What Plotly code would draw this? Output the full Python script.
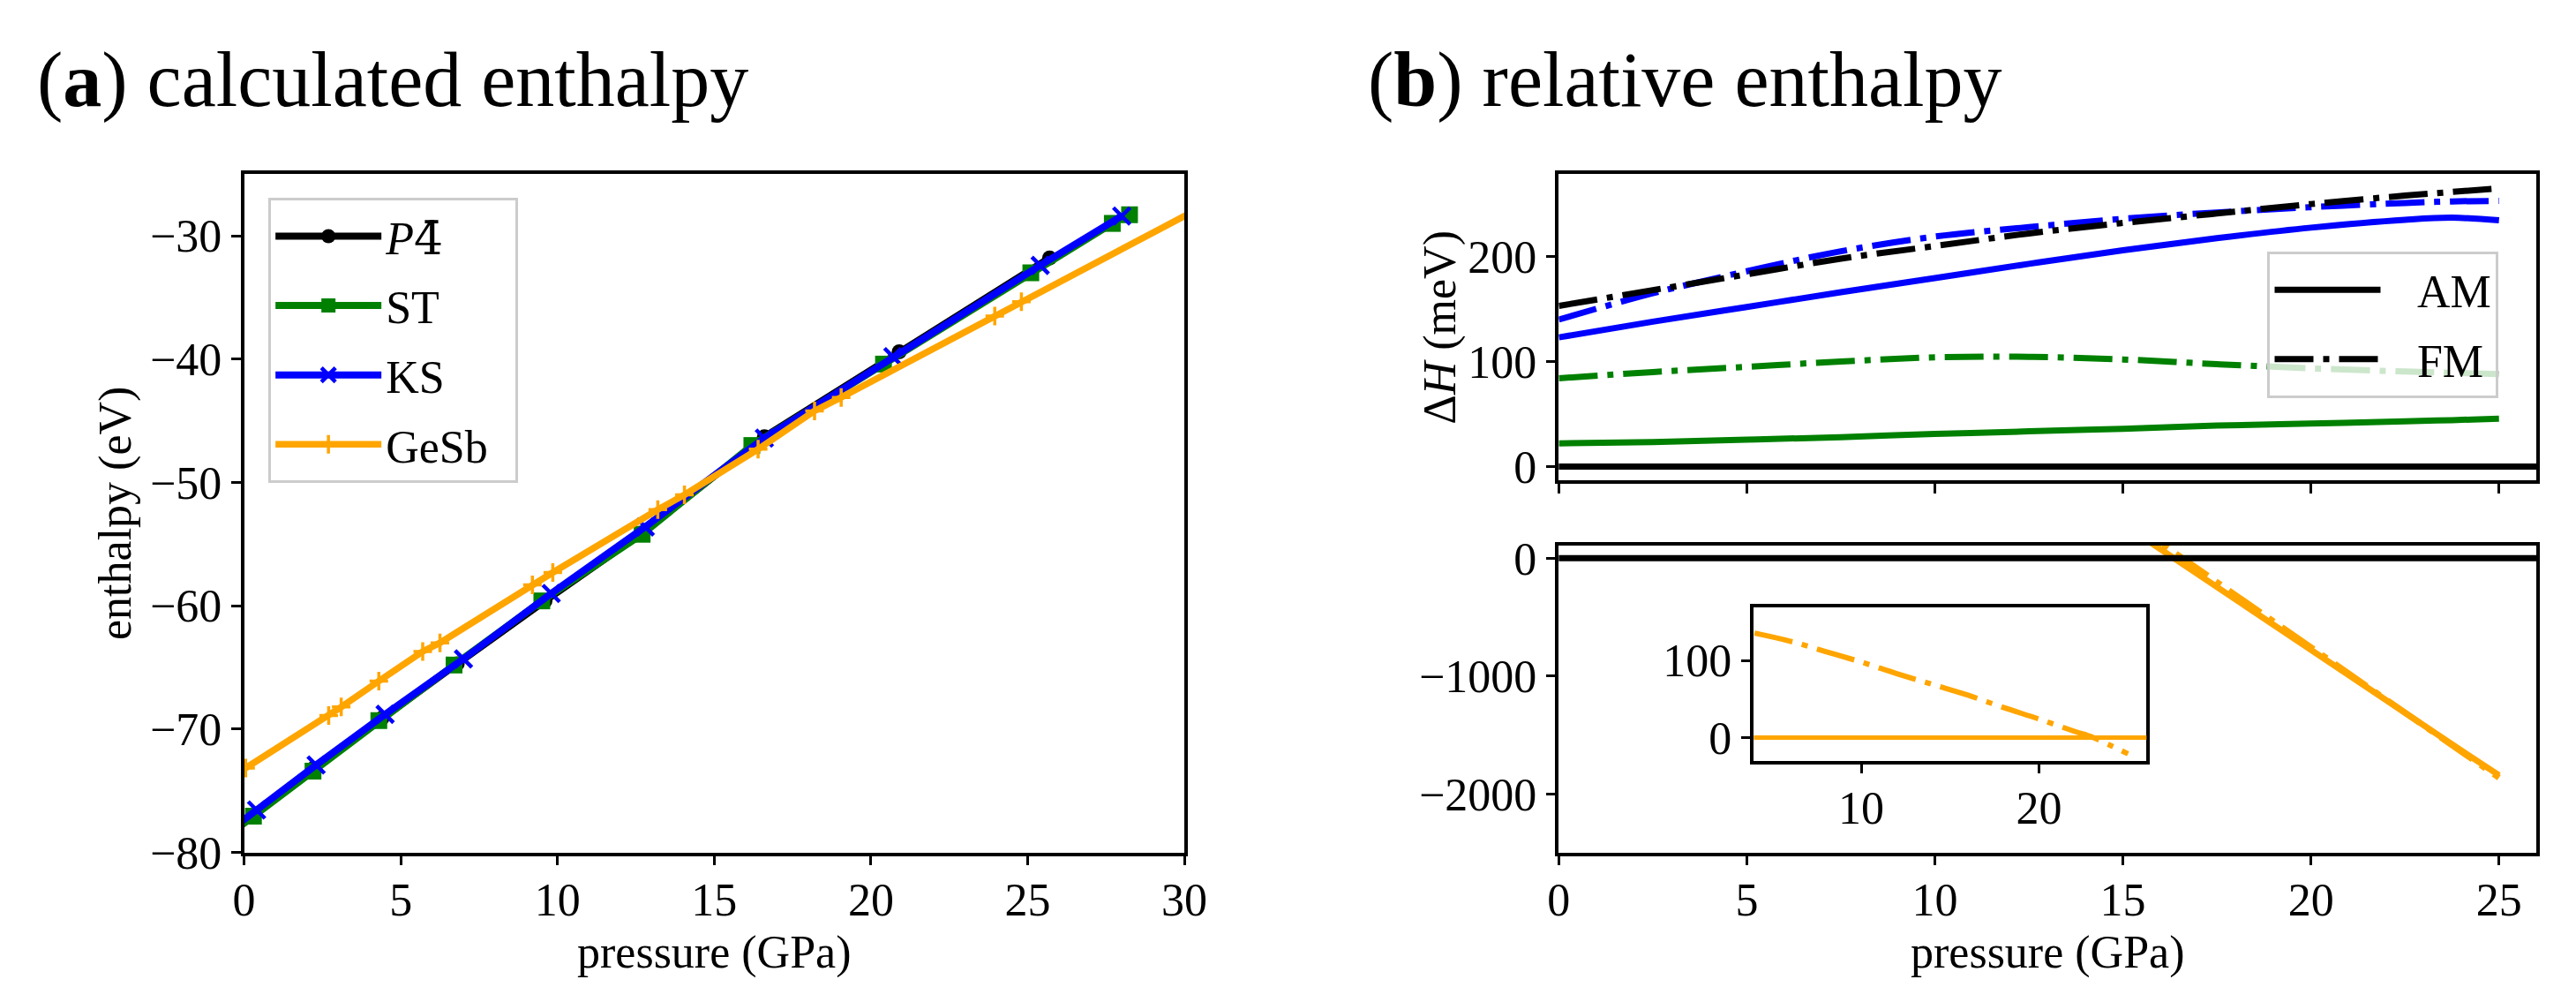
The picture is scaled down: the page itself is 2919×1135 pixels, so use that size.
import plotly.graph_objects as go

# (a) calculated enthalpy, eV vs GPa
p4_p = [-0.4, 0.3, 2.2, 4.4, 6.8, 9.6, 12.7, 16.6, 20.9, 25.7]
p4_h = [-78.3, -77.0, -73.2, -69.1, -64.7, -59.6, -54.1, -46.3, -39.4, -31.8]
st_p = [-0.4, 0.3, 2.2, 4.3, 6.7, 9.5, 12.7, 16.2, 20.4, 25.1, 27.7, 28.25]
st_h = [-78.4, -77.05, -73.4, -69.3, -64.8, -59.6, -54.2, -47.0, -40.4, -33.0, -29.0, -28.3]
ks_p = [-0.4, 0.4, 2.3, 4.5, 7.0, 9.8, 12.8, 16.6, 20.7, 25.4, 28.0]
ks_h = [-78.1, -76.55, -72.9, -68.8, -64.3, -59.0, -53.6, -46.4, -39.8, -32.4, -28.4]
gesb_p = [0.05, 2.7, 3.1, 4.3, 5.7, 6.25, 9.2, 9.85, 13.2, 14.05, 16.4, 18.2, 19.05, 23.95, 24.8, 30.3]
gesb_h = [-73.15, -68.9, -68.2, -66.1, -63.7, -63.0, -58.3, -57.3, -52.2, -51.0, -47.3, -44.2, -43.1, -36.5, -35.35, -28.0]

# (b) relative enthalpy, meV
rel_p = [0, 2.5, 5, 7.5, 10, 12.5, 15, 17.5, 20, 22.5, 23.75, 25]
p4_fm = [153, 168, 183, 198, 210, 222, 232, 241, 250, 258, 261.5, 265]
ks_am = [123, 138, 152, 166, 179.5, 193, 206, 217.5, 227.5, 235, 237, 234.5]
ks_fm = [140, 165, 186, 205, 219, 228, 236, 242, 247, 251, 252.5, 253]
st_am = [22, 23.2, 25.5, 28, 31, 33.5, 36, 39, 41, 43, 44.2, 45.5]
st_fm = [84, 90, 95, 100, 104, 104.5, 102, 97.5, 93.5, 90.5, 89.2, 88]

gesb_rel_p = [15, 16, 17, 18, 19, 20, 21, 22, 23, 24, 25]
gesb_am = [290, 75, -140, -355, -570, -785, -1000, -1210, -1420, -1630, -1840]
gesb_fm = [350, 130, -93, -318, -540, -761, -985, -1202, -1416, -1640, -1861]

# inset: GeSb FM - AM
inset_p = [4, 6, 8, 10, 12, 14, 16, 18, 20, 22, 23, 24, 25]
inset_fm = [135.5, 125, 111.5, 98, 83, 69, 55, 39, 24, 8, 0.5, -10, -21]

BLACK, GREEN, BLUE, ORANGE = "#000000", "#008000", "#0000ff", "#ffa500"
FONT = "Liberation Serif"
FS = 52
DASHDOT = "44px,11px,7px,11px"
W, H = 2919, 1135


def px(x):
    return x / W


def py(y):
    return 1 - y / H


fig = go.Figure()

# left panel
p4_name = "<i>P</i><span style=\"font-family:'DejaVu Serif'\">4\u0304</span>"
fig.add_trace(go.Scatter(x=p4_p, y=p4_h, name=p4_name, mode="lines+markers",
                         line=dict(color=BLACK, width=8),
                         marker=dict(symbol="circle", size=17, color=BLACK),
                         xaxis="x", yaxis="y", legend="legend", legendgroup="p4"))
fig.add_trace(go.Scatter(x=st_p, y=st_h, name="ST", mode="lines+markers",
                         line=dict(color=GREEN, width=8),
                         marker=dict(symbol="square", size=19, color=GREEN),
                         xaxis="x", yaxis="y", legend="legend", legendgroup="st"))
fig.add_trace(go.Scatter(x=ks_p, y=ks_h, name="KS", mode="lines+markers",
                         line=dict(color=BLUE, width=8),
                         marker=dict(symbol="x-thin", size=19, color=BLUE,
                                     line=dict(color=BLUE, width=4.5)),
                         xaxis="x", yaxis="y", legend="legend", legendgroup="ks"))
fig.add_trace(go.Scatter(x=gesb_p, y=gesb_h, name="GeSb\u2002", mode="lines+markers",
                         line=dict(color=ORANGE, width=7.5),
                         marker=dict(symbol="cross-thin", size=15, color=ORANGE,
                                     line=dict(color=ORANGE, width=3.5)),
                         xaxis="x", yaxis="y", legend="legend", legendgroup="gesb"))

# right top panel
for yy, col, dash in [(st_am, GREEN, "solid"), (st_fm, GREEN, DASHDOT),
                      (ks_am, BLUE, "solid"), (ks_fm, BLUE, DASHDOT),
                      (p4_fm, BLACK, DASHDOT)]:
    fig.add_trace(go.Scatter(x=rel_p, y=yy, mode="lines", showlegend=False,
                             line=dict(color=col, width=7, dash=dash, shape="spline"),
                             xaxis="x2", yaxis="y2"))

# legend entries AM / FM
fig.add_trace(go.Scatter(x=[None], y=[None], name="\u2002\u2009AM", mode="lines",
                         line=dict(color=BLACK, width=7),
                         xaxis="x2", yaxis="y2", legend="legend2", legendgroup="am"))
fig.add_trace(go.Scatter(x=[None], y=[None], name="\u2002\u2009FM", mode="lines",
                         line=dict(color=BLACK, width=7, dash=DASHDOT),
                         xaxis="x2", yaxis="y2", legend="legend2", legendgroup="fm"))

# right bottom panel
fig.add_trace(go.Scatter(x=gesb_rel_p, y=gesb_am, mode="lines", showlegend=False,
                         line=dict(color=ORANGE, width=7),
                         xaxis="x3", yaxis="y3"))
fig.add_trace(go.Scatter(x=gesb_rel_p, y=gesb_fm, mode="lines", showlegend=False,
                         line=dict(color=ORANGE, width=7, dash=DASHDOT),
                         xaxis="x3", yaxis="y3"))

# inset
fig.add_trace(go.Scatter(x=inset_p, y=inset_fm, mode="lines", showlegend=False,
                         line=dict(color=ORANGE, width=6, dash=DASHDOT, shape="spline"),
                         xaxis="x4", yaxis="y4"))

# zero reference lines
for ax, col, lw in [("2", BLACK, 7), ("3", BLACK, 7), ("4", ORANGE, 5)]:
    fig.add_shape(type="line", xref="x%s domain" % ax, yref="y" + ax,
                  x0=0, x1=1, y0=0, y1=0, line=dict(color=col, width=lw))

axis_style = dict(showline=True, linecolor=BLACK, linewidth=3.5, mirror=True,
                  ticks="outside", ticklen=11, tickwidth=3, tickcolor=BLACK,
                  showgrid=False, zeroline=False, exponentformat="none",
                  tickfont=dict(family=FONT, size=FS, color=BLACK))
x_style = dict(axis_style, ticklabelstandoff=-6)

legend_style = dict(xanchor="left", yanchor="top", bordercolor="#cccccc", borderwidth=3,
                    font=dict(family=FONT, size=FS), itemwidth=120,
                    traceorder="grouped", tracegroupgap=8)

fig.update_layout(
    width=W, height=H,
    margin=dict(l=0, r=0, t=0, b=0),
    paper_bgcolor="white", plot_bgcolor="white",
    font=dict(family=FONT, size=FS, color=BLACK),
    xaxis=dict(domain=[px(259), px(1339)], range=[0, 30], dtick=5, anchor="y", **x_style),
    yaxis=dict(domain=[py(981), py(183)], range=[-80, -25], dtick=10, anchor="x", **axis_style),
    xaxis2=dict(domain=[px(1769), px(2892)], range=[0, 26], dtick=5, anchor="y2",
                showticklabels=False, **axis_style),
    yaxis2=dict(domain=[py(543), py(183)], range=[-13, 278.5], tickvals=[0, 100, 200],
                anchor="x2", **axis_style),
    xaxis3=dict(domain=[px(1769), px(2892)], range=[0, 26], dtick=5, anchor="y3", **x_style),
    yaxis3=dict(domain=[py(981), py(620)], range=[-2495, 107], tickvals=[0, -1000, -2000],
                anchor="x3", **axis_style),
    xaxis4=dict(domain=[px(1993), px(2444)], range=[3.96, 26.04], tickvals=[10, 20],
                anchor="y4", **x_style),
    yaxis4=dict(domain=[py(873), py(693)], range=[-30, 168.5], tickvals=[0, 100],
                anchor="x4", **axis_style),
    legend=dict(x=px(287), y=py(211), bgcolor="white", **legend_style),
    legend2=dict(x=px(2583), y=py(274), bgcolor="rgba(255,255,255,0.8)", **legend_style),
)

annotations = [
    dict(text="(<b>a</b>) calculated enthalpy", x=px(19), y=py(72), xanchor="left",
         yanchor="middle", size=88),
    dict(text="(<b>b</b>) relative enthalpy", x=px(1548), y=py(72), xanchor="left",
         yanchor="middle", size=88),
    dict(text="enthalpy (eV)", x=px(112), y=py(582), textangle=-90,
         xanchor="center", yanchor="middle"),
    dict(text="\u0394<i>H</i> (meV)", x=px(1632), y=py(363), textangle=-90,
         xanchor="center", yanchor="middle"),
    dict(text="pressure (GPa)", x=px(799), y=py(1099), xanchor="center", yanchor="middle"),
    dict(text="pressure (GPa)", x=px(2330), y=py(1099), xanchor="center", yanchor="middle"),
]
for a in annotations:
    size = a.pop("size", FS)
    fig.add_annotation(xref="paper", yref="paper", showarrow=False,
                       font=dict(family=FONT, size=size, color=BLACK), **a)

fig.write_html("out.html")
